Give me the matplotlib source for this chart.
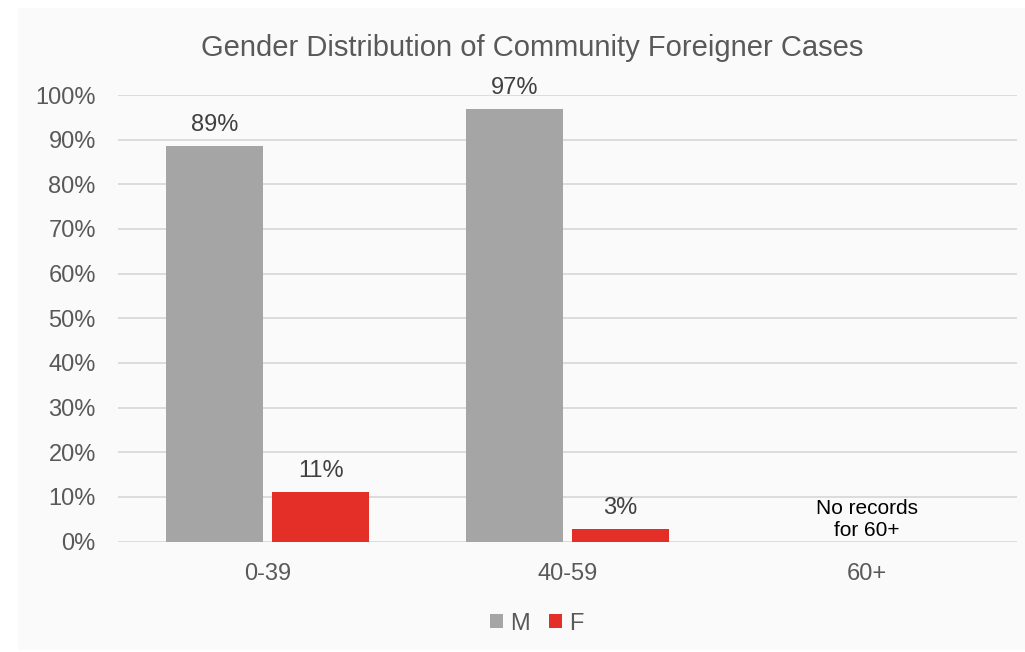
import matplotlib

matplotlib.use("Agg")
import matplotlib.pyplot as plt
import numpy as np
from matplotlib.patches import Rectangle
from matplotlib.ticker import PercentFormatter

plt.rcParams["font.family"] = ["Liberation Sans", "DejaVu Sans"]

categories = ["0-39", "40-59", "60+"]
male = [88.6, 96.9, np.nan]
female = [11.1, 2.8, np.nan]
male_labels = ["89%", "97%", ""]
female_labels = ["11%", "3%", ""]
note = "No records\nfor 60+"

GRAY = "#a5a5a5"
RED = "#e32f27"
TEXT = "#595959"
GRID = "#d9d9d9"

fig = plt.figure(figsize=(10.25, 6.52), dpi=100)
fig.patch.set_facecolor("white")
fig.patches.append(Rectangle((18 / 1025, 0.003), 1.0, 1 - 8 / 652 - 0.003,
                             transform=fig.transFigure, facecolor="#fafafa",
                             edgecolor="none", zorder=-10))

ax = fig.add_axes([118 / 1025, 1 - 541.5 / 652, 899 / 1025, (541.5 - 95) / 652])
ax.set_facecolor("none")

x = np.arange(len(categories))
w = 0.323
bm = ax.bar(x - 0.177, male, w, color=GRAY, label="M", zorder=3)
bf = ax.bar(x + 0.177, female, w, color=RED, label="F", zorder=3)

for rect, lab in zip(bm, male_labels):
    if lab:
        ax.text(rect.get_x() + rect.get_width() / 2, rect.get_height() + 2.3, lab,
                ha="center", va="bottom", fontsize=17, color="#404040")
for rect, lab in zip(bf, female_labels):
    if lab:
        ax.text(rect.get_x() + rect.get_width() / 2, rect.get_height() + 2.3, lab,
                ha="center", va="bottom", fontsize=17, color="#404040")

ax.text(2, 4.9, note, ha="center", va="center", fontsize=15, color="black",
        linespacing=1.25)

ax.set_xlim(-0.5, 2.5)
ax.set_ylim(0, 100)
ax.set_yticks(np.arange(0, 101, 10))
ax.yaxis.set_major_formatter(PercentFormatter(decimals=0))
ax.set_xticks(x)
ax.set_xticklabels(categories)
ax.tick_params(axis="both", length=0, labelsize=17, labelcolor=TEXT)
ax.tick_params(axis="y", pad=16)
ax.tick_params(axis="x", pad=15.5)
ax.grid(axis="y", color=GRID, linewidth=1.3, zorder=0)
for s in ax.spines.values():
    s.set_visible(False)

fig.text(532 / 1025, 1 - 48 / 652, "Gender Distribution of Community Foreigner Cases",
         ha="center", va="center", fontsize=21, color=TEXT)

leg = fig.legend(handles=[bm, bf], labels=["M", "F"], loc="center",
                 bbox_to_anchor=(537 / 1025, 1 - 623.5 / 652), ncol=2, frameon=False,
                 fontsize=17, handlelength=0.55, handleheight=0.55,
                 handletextpad=0.3, columnspacing=0.8)
for t in leg.get_texts():
    t.set_color(TEXT)

fig.savefig("out.png", dpi=100)
